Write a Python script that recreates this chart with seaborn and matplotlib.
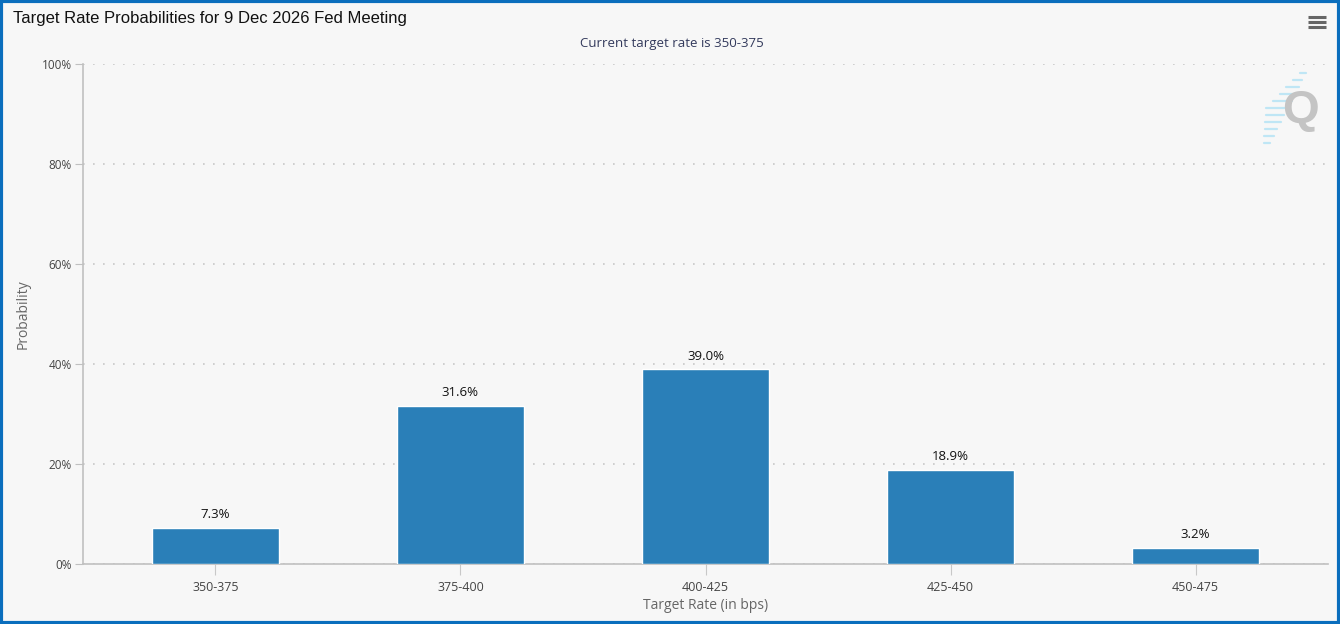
import pandas as pd
import matplotlib.pyplot as plt
import seaborn as sns
from matplotlib.lines import Line2D
from matplotlib.patches import Rectangle

# Chart data
rates = ["350-375", "375-400", "400-425", "425-450", "450-475"]
probs = [7.3, 31.6, 39.0, 18.9, 3.2]
y_ticks = [0, 20, 40, 60, 80, 100]

data = pd.DataFrame({"rate": rates, "prob": probs})

sns.set_style("white")
plt.rcParams["font.family"] = ["Open Sans", "DejaVu Sans"]

bg = "#f7f7f7"
fig = plt.figure(figsize=(13.4, 6.24), dpi=100, facecolor=bg)
ax = fig.add_axes([83 / 1340, 60 / 624, 1245 / 1340, 500 / 624])
ax.set_facecolor(bg)

sns.barplot(data=data, x="rate", y="prob", color="#2a7fb8", width=0.52,
            saturation=1, ax=ax, zorder=3)

# value labels
for i, v in enumerate(probs):
    ax.text(i, v + 1.3, f"{v:.1f}%", ha="center", va="bottom",
            fontsize=9.5, color="#111111", zorder=4)

ax.set_ylim(0, 100)
ax.set_xlim(-0.54, 4.54)
ax.set_yticks(y_ticks)
ax.set_yticklabels([f"{t}%" for t in y_ticks])
ax.grid(axis="y", color="#c8c8c8", linestyle=(0, (1, 5)), linewidth=1.2, zorder=0)
ax.grid(axis="x", visible=False)

for side in ["top", "right"]:
    ax.spines[side].set_visible(False)
ax.spines["left"].set_color("#c0c0c0")
ax.spines["bottom"].set_color("#c0c0c0")
ax.spines["left"].set_linewidth(1.2)
ax.spines["bottom"].set_linewidth(1.2)

ax.tick_params(axis="y", length=6, color="#c0c0c0", labelsize=8.5,
               labelcolor="#444444", pad=2, left=True)
ax.tick_params(axis="x", length=8, color="#c8c8c8", labelsize=9,
               labelcolor="#444444", pad=4, bottom=True)

ax.set_xlabel("Target Rate (in bps)", fontsize=10, color="#666666", labelpad=3)
ax.set_ylabel("Probability", fontsize=10, color="#666666", labelpad=8)

# title and subtitle
fig.text(13 / 1340, 1 - 19 / 624, "Target Rate Probabilities for 9 Dec 2026 Fed Meeting",
         fontsize=12, family=["Liberation Sans", "DejaVu Sans"], color="#111111",
         va="center", ha="left")
fig.text(672 / 1340, 1 - 44 / 624, "Current target rate is 350-375",
         fontsize=9.5, color="#333a5c", ha="center", va="center")

# menu icon
for yy in [17, 22, 27]:
    fig.add_artist(Line2D([1308 / 1340, 1326 / 1340], [1 - yy / 624, 1 - yy / 624],
                          color="#666666", linewidth=2.2, solid_capstyle="butt"))

# watermark logo
for k in range(11):
    yy = 73 + k * 7
    xr = 1306 - k * 3.6
    ln = 6 + 16 * (1 - abs(k - 5) / 5)
    fig.add_artist(Line2D([(xr - ln) / 1340, xr / 1340],
                          [1 - yy / 624, 1 - yy / 624],
                          color="#bfe6f5", linewidth=1.6))
fig.text(1300 / 1340, 1 - 111 / 624, "Q", fontsize=34, fontweight="bold",
         color="#c4c4c4", ha="center", va="center",
         family=["Liberation Sans", "DejaVu Sans"])

# border
fig.add_artist(Rectangle((0.001, 0.002), 0.998, 0.996, transform=fig.transFigure,
                         fill=False, edgecolor="#0a6ebd", linewidth=3))

fig.savefig("out.png", dpi=100, facecolor=bg)
